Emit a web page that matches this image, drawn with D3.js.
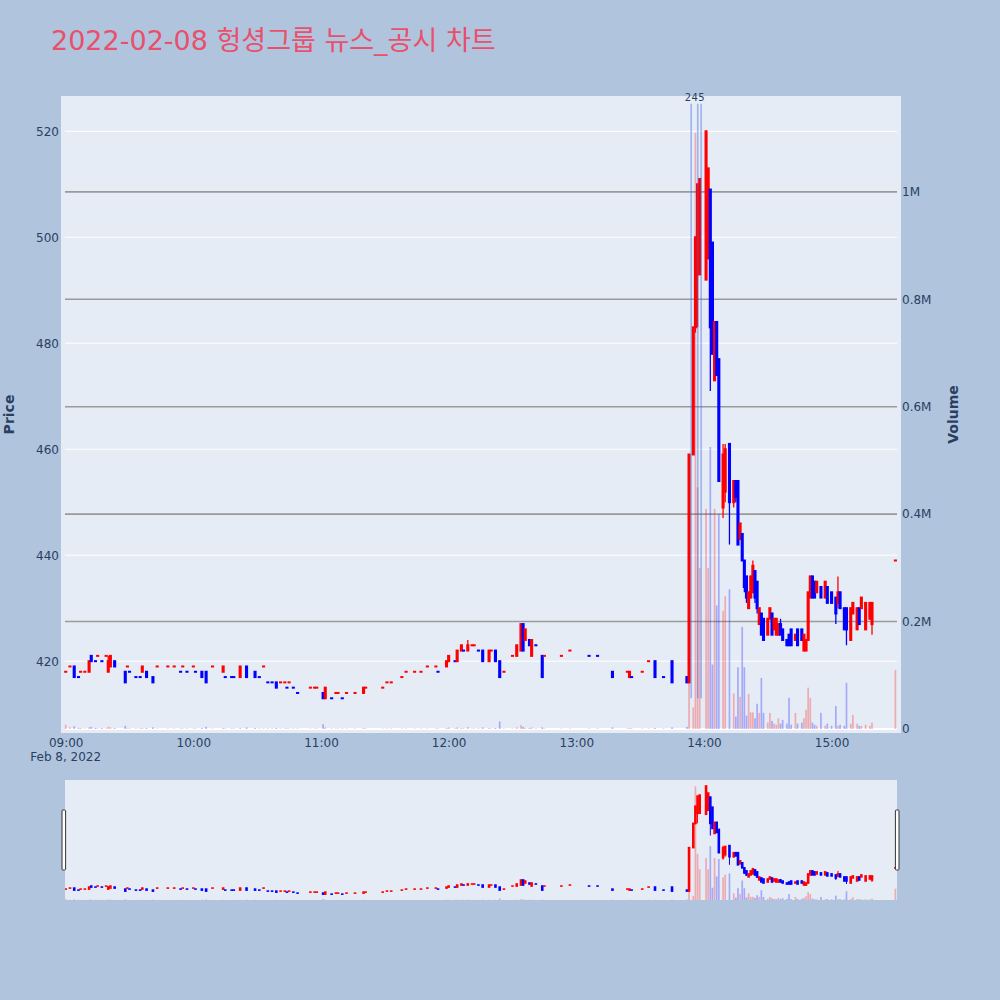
<!DOCTYPE html>
<html>
<head>
<meta charset="utf-8">
<script src="https://cdn.jsdelivr.net/npm/d3@7"></script>
<style>
  body { margin: 0; background: #b0c4de; }
</style>
</head>
<body>
<script>
// chart values (1-minute candles, news markers)
const day = "2022-02-08";
const titleText = "2022-02-08 헝셩그룹 뉴스_공시 차트";

const times = [
  "09:00","09:02","09:04","09:06","09:07","09:09","09:11","09:12","09:14","09:15","09:17","09:19","09:20","09:21","09:23","09:28","09:29","09:30","09:33","09:35","09:36","09:38","09:41","09:43","09:48","09:51","09:54","09:55","09:57",
  "10:00","10:01","10:04","10:06","10:09","10:14","10:15","10:18","10:19","10:22","10:25","10:29","10:31","10:33","10:35","10:37","10:39","10:41","10:43","10:44","10:45","10:47","10:49","10:55","10:57","10:58",
  "11:01","11:02","11:05","11:07","11:08","11:10","11:12","11:16","11:20","11:21","11:29","11:31","11:33","11:38","11:40","11:44","11:47","11:50","11:54","11:55","11:59",
  "12:00","12:03","12:04","12:06","12:07","12:09","12:11","12:12","12:14","12:16","12:19","12:20","12:22","12:24","12:26","12:30","12:32","12:34","12:35","12:36","12:38","12:39","12:41","12:44","12:45","12:53","12:57",
  "13:06","13:10","13:17","13:24","13:25","13:26","13:31","13:34","13:37","13:41","13:45","13:52","13:53","13:55","13:56","13:57","13:58",
  "14:01","14:02","14:03","14:04","14:05","14:06","14:07","14:09","14:10","14:12","14:14","14:15","14:16","14:17","14:18","14:19","14:20","14:21","14:22","14:23","14:24","14:25","14:26","14:27","14:28","14:30","14:31","14:32","14:33","14:34","14:35","14:36","14:37","14:39","14:40","14:41","14:43","14:44","14:46","14:47","14:48","14:49","14:50","14:51","14:52","14:53","14:55","14:57","14:58",
  "15:00","15:02","15:03","15:04","15:06","15:07","15:09","15:10","15:12","15:13","15:14","15:16","15:18","15:19","15:30"
];
const opens = [
  418,419,419,417,418,418,418,421,420,421,420,421,418,419,420,418,419,418,417,417,418,418,417,419,419,419,418,419,418,
  419,418,418,418,419,418,417,417,417,417,419,418,417,419,416,416,416,416,416,415,416,415,414,415,415,415,
  414,413,413,414,414,413,414,414,414,415,415,416,416,417,418,418,418,419,419,418,419,
  420,420,420,422,422,422,423,423,422,422,420,422,422,420,418,421,421,422,427,424,424,421,423,421,421,421,422,
  421,421,418,418,417,417,418,420,420,417,420,417,416,459,483,493,493,
  492,496,509,499,473,484,477,449,452,461,450,454,454,443,444,439,436,430,432,433,437,435,427,429,428,425,428,429,426,425,425,427,426,424,425,426,424,426,426,422,422,424,432,436,435,433,434,432,434,
  433,432,431,433,430,430,424,429,426,430,430,426,428,427,439
];
const highs = [
  418,419,419,417,418,418,420,421,420,421,420,421,421,421,420,418,419,418,417,417,419,418,417,419,419,419,418,419,418,
  419,418,418,418,419,419,417,417,417,419,419,418,417,419,416,416,416,416,416,415,416,415,414,415,415,415,
  414,415,413,414,414,413,414,414,415,415,415,416,416,417,418,418,418,419,419,418,420,
  421,420,422,423,422,424,423,423,422,422,422,422,422,420,418,421,423,427,427,426,424,424,423,421,421,421,422,
  421,421,418,418,418,417,418,420,420,417,420,417,459,483,500,510,511,
  520,513,509,499,484,484,477,461,461,461,454,454,454,446,444,439,436,433,436,439,437,435,430,429,428,428,430,429,428,428,427,428,426,424,425,426,425,426,426,425,424,433,436,436,435,435,434,435,434,
  433,432,436,433,430,430,430,431,430,430,432,431,431,431,439
];
const lows = [
  418,419,417,417,418,418,418,420,420,421,420,421,418,419,419,416,419,418,417,417,418,417,416,419,419,419,418,419,418,
  419,418,417,416,419,418,417,417,417,417,417,417,417,419,416,416,415,416,416,415,416,415,414,415,415,415,
  413,413,413,414,414,413,414,414,414,415,415,416,416,417,418,418,418,419,419,418,419,
  420,420,420,422,422,422,423,423,422,420,420,422,420,417,418,421,421,422,422,424,423,421,423,417,421,421,422,
  421,421,417,418,417,417,418,420,417,417,416,416,416,459,482,483,493,
  492,496,471,478,473,474,454,447,450,442,449,450,442,443,439,433,431,430,432,433,431,429,427,425,424,425,428,425,426,425,425,425,424,423,423,423,424,423,424,422,422,424,432,432,432,433,432,432,431,
  431,427,430,430,426,423,424,429,426,427,430,426,428,425,439
];
const closes = [
  418,419,417,417,418,418,420,420,420,421,420,421,420,421,419,416,419,418,417,417,419,417,416,419,419,419,418,419,418,
  419,418,417,416,419,419,417,417,417,419,417,417,417,419,416,416,415,416,416,415,416,415,414,415,415,415,
  413,415,413,414,414,413,414,414,415,415,415,416,416,417,418,418,418,419,419,418,420,
  421,420,422,423,422,423,423,423,422,420,422,422,420,417,418,421,423,427,422,426,423,424,423,417,421,421,422,
  421,421,417,418,418,417,418,420,417,417,416,416,459,483,500,510,511,
  520,513,483,478,484,474,454,459,460,450,454,451,442,446,439,434,432,433,436,438,432,430,430,425,424,428,430,425,428,428,427,425,424,423,423,423,425,423,424,425,424,433,436,432,432,435,432,435,431,
  431,429,433,430,426,426,430,431,430,427,432,431,431,431,439
];
const volumes = [
  8000,3000,5000,2000,2000,1000,3000,4000,2000,1000,2000,1000,4000,3000,2000,6000,1000,1000,1000,1000,2000,2000,3000,1000,1000,1000,1000,1000,1000,
  1000,1000,2000,4000,1000,2000,1000,1000,1000,2000,3000,2000,1000,1000,1000,1000,2000,1000,1000,1000,1000,1000,1000,1000,1000,1000,
  9000,3000,1000,1000,1000,1000,1000,1000,2000,1000,1000,1000,1000,1000,1000,1000,1000,1000,1000,1000,2000,
  3000,1000,3000,2000,1000,4000,1000,1000,1000,3000,2000,1000,2000,14000,1000,1000,3000,7000,4000,2000,2000,3000,1000,3000,1000,1000,1000,
  1000,1000,3000,1000,2000,1000,1000,1000,2000,1000,3000,4000,150000,40000,1110000,450000,300000,
  410000,300000,525000,120000,410000,230000,400000,220000,247000,260000,66000,23000,115000,60000,190000,115000,25000,65000,31000,31000,20000,47000,30000,95000,30000,12000,30000,15000,10000,8000,20000,10000,17000,10000,58000,8000,30000,10000,12000,20000,36000,77000,58000,12000,8000,6000,30000,6000,10000,
  6000,43000,6000,8000,6000,86000,10000,26000,10000,6000,6000,8000,6000,12000,110000
];

// news / disclosure markers
const newsLabels = ["2", "4", "5"];
const newsTimes = ["13:54:00", "13:57:06", "13:58:42"];

const priceTicks = [420, 440, 460, 480, 500, 520];
const volumeTicks = [0, 200000, 400000, 600000, 800000, 1000000];
const volumeTickLabels = ["0", "0.2M", "0.4M", "0.6M", "0.8M", "1M"];
const timeTicks = ["09:00", "10:00", "11:00", "12:00", "13:00", "14:00", "15:00"];

const FONT = "'DejaVu Sans', 'Noto Sans CJK KR', sans-serif";
const UP = "#ff0000", DOWN = "#0000ff";

const parseTime = d3.timeParse("%Y-%m-%d %H:%M:%S");
const toDate = t => parseTime(`${day} ${t.length === 5 ? t + ":00" : t}`);

const data = times.map((t, i) => ({
  date: toDate(t), o: opens[i], h: highs[i], l: lows[i], c: closes[i], v: volumes[i]
}));

// direction like plotly: equal open/close compares to previous close
let prevC, prevUp = true;
data.forEach(d => {
  let up;
  if (d.c > d.o) up = true;
  else if (d.c < d.o) up = false;
  else if (prevC !== undefined && d.c !== prevC) up = d.c > prevC;
  else up = prevUp;
  d.up = up;
  prevC = d.c;
  prevUp = up;
});

const svg = d3.select("body").append("svg")
    .attr("width", 1000)
    .attr("height", 1000)
    .style("font-family", FONT);

svg.append("rect").attr("width", 1000).attr("height", 1000).attr("fill", "#b0c4de");

// title
svg.append("text")
    .attr("x", 51).attr("y", 50)
    .attr("font-size", 27)
    .attr("fill", "#e9506b")
    .text(titleText);

// scales
const x = d3.scaleTime()
    .domain([toDate("08:59:40"), toDate("15:30:45")])
    .range([65, 897]);
const y = d3.scaleLinear().domain([407.2, 525.9]).range([729, 100]);
const yVol = d3.scaleLinear().domain([0, 1171000]).range([729, 100]);

// main plot background
svg.append("rect")
    .attr("x", 61).attr("y", 96).attr("width", 840).attr("height", 637)
    .attr("fill", "#e5ecf6");

svg.append("clipPath").attr("id", "mainClip")
  .append("rect").attr("x", 61).attr("y", 90).attr("width", 840).attr("height", 643);

// grid
svg.append("g").selectAll("line")
    .data(priceTicks)
    .enter().append("line")
    .attr("x1", 65).attr("x2", 897)
    .attr("y1", d => y(d)).attr("y2", d => y(d))
    .attr("stroke", "#ffffff").attr("stroke-width", 1);

svg.append("g").selectAll("line")
    .data(volumeTicks.filter(d => d > 0))
    .enter().append("line")
    .attr("x1", 65).attr("x2", 897)
    .attr("y1", d => yVol(d)).attr("y2", d => yVol(d))
    .attr("stroke", "#9a9a9a").attr("stroke-width", 1.6);

svg.append("line")
    .attr("x1", 65).attr("x2", 897)
    .attr("y1", yVol(0)).attr("y2", yVol(0))
    .attr("stroke", "#ffffff").attr("stroke-width", 2);

function drawVolume(g, xs, ys, w) {
  g.selectAll(".vol")
    .data(data)
    .enter().append("rect")
    .attr("class", "vol")
    .attr("x", d => xs(d.date) - w / 2)
    .attr("width", w)
    .attr("y", d => ys(d.v))
    .attr("height", d => ys(0) - ys(d.v))
    .attr("fill", d => d.up ? UP : DOWN)
    .attr("fill-opacity", 0.28);
}

function drawCandles(g, xs, ys, bw, ww, pad) {
  const c = g.selectAll(".candle")
    .data(data)
    .enter().append("g")
    .attr("class", "candle");
  c.append("line")
    .attr("x1", d => xs(d.date)).attr("x2", d => xs(d.date))
    .attr("y1", d => ys(d.h)).attr("y2", d => ys(d.l))
    .attr("stroke", d => d.up ? UP : DOWN)
    .attr("stroke-width", ww);
  c.append("rect")
    .attr("x", d => xs(d.date) - bw / 2)
    .attr("width", bw)
    .attr("y", d => ys(Math.max(d.o, d.c)) - pad)
    .attr("height", d => Math.abs(ys(d.o) - ys(d.c)) + 2 * pad)
    .attr("fill", d => d.up ? UP : DOWN);
}

const main = svg.append("g").attr("clip-path", "url(#mainClip)");
drawVolume(main, x, yVol, 1.7);
drawCandles(main, x, y, 3.1, 1.3, 1);

// news markers
const dayLow = d3.min(lows), dayHigh = d3.max(highs);
const newsData = newsTimes.map((t, i) => ({ date: toDate(t), label: newsLabels[i] }));

// spread the number labels a little so they stay readable, keep group centre
const labelGap = 6.8;
const rawX = newsData.map(d => x(d.date) - 2);
const spread = [];
rawX.forEach((v, i) => spread.push(i === 0 ? v : Math.max(v, spread[i - 1] + labelGap)));
const shift = d3.mean(rawX) - d3.mean(spread);
newsData.forEach((d, i) => { d.lx = spread[i] + shift; });

const news = main.selectAll(".news")
    .data(newsData)
    .enter().append("g").attr("class", "news");
news.append("line")
    .attr("x1", d => x(d.date)).attr("x2", d => x(d.date))
    .attr("y1", y(dayLow)).attr("y2", y(dayHigh * 1.01))
    .attr("stroke", "royalblue").attr("stroke-opacity", 0.42)
    .attr("stroke-width", 1.7);
news.append("text")
    .attr("x", d => d.lx)
    .attr("y", y(dayHigh * 1.01) - 3)
    .attr("text-anchor", "middle")
    .attr("font-size", 10)
    .attr("fill", "#2a3f5f")
    .text(d => d.label);

// axes
function styleAxis(g) {
  g.select(".domain").remove();
  g.attr("font-family", FONT).attr("font-size", 12);
  g.selectAll("text").attr("fill", "#2a3f5f");
}

svg.append("g")
    .attr("transform", "translate(65,0)")
    .call(d3.axisLeft(y).tickValues(priceTicks).tickSize(0).tickPadding(6))
    .call(styleAxis);

svg.append("g")
    .attr("transform", "translate(897,0)")
    .call(d3.axisRight(yVol).tickValues(volumeTicks).tickSize(0).tickPadding(5)
      .tickFormat((d, i) => volumeTickLabels[i]))
    .call(styleAxis);

svg.append("g")
    .attr("transform", "translate(0,729)")
    .call(d3.axisBottom(x).tickValues(timeTicks.map(toDate)).tickSize(0).tickPadding(9)
      .tickFormat(d3.timeFormat("%H:%M")))
    .call(styleAxis);

svg.append("text")
    .attr("x", x(toDate(timeTicks[0])))
    .attr("y", 761)
    .attr("text-anchor", "middle")
    .attr("font-size", 12)
    .attr("fill", "#2a3f5f")
    .text(d3.timeFormat("%b %-d, %Y")(toDate(timeTicks[0])));

// axis titles
svg.append("text")
    .attr("transform", "translate(14,414.5) rotate(-90)")
    .attr("text-anchor", "middle")
    .attr("font-size", 14).attr("font-weight", "bold")
    .attr("fill", "#2a3f5f")
    .text("Price");

svg.append("text")
    .attr("transform", "translate(957.5,414.5) rotate(-90)")
    .attr("text-anchor", "middle")
    .attr("font-size", 14).attr("font-weight", "bold")
    .attr("fill", "#2a3f5f")
    .text("Volume");

// range slider
const yMini = d3.scaleLinear().domain([407.2, 525.9]).range([900, 780]);
const yVolMini = d3.scaleLinear().domain([0, 1171000]).range([900, 780]);

svg.append("rect")
    .attr("x", 65).attr("y", 780).attr("width", 832).attr("height", 120)
    .attr("fill", "#e5ecf6");
svg.append("clipPath").attr("id", "miniClip")
  .append("rect").attr("x", 65).attr("y", 780).attr("width", 832).attr("height", 120);

const mini = svg.append("g").attr("clip-path", "url(#miniClip)");
drawVolume(mini, x, yVolMini, 1.7);
drawCandles(mini, x, yMini, 2.6, 1, 0.8);

[63.8, 897.2].forEach(cx => {
  svg.append("rect")
      .attr("x", cx - 1.8).attr("y", 810)
      .attr("width", 3.6).attr("height", 60)
      .attr("rx", 1)
      .attr("fill", "#ffffff").attr("stroke", "#333").attr("stroke-width", 1);
});
</script>
</body>
</html>
